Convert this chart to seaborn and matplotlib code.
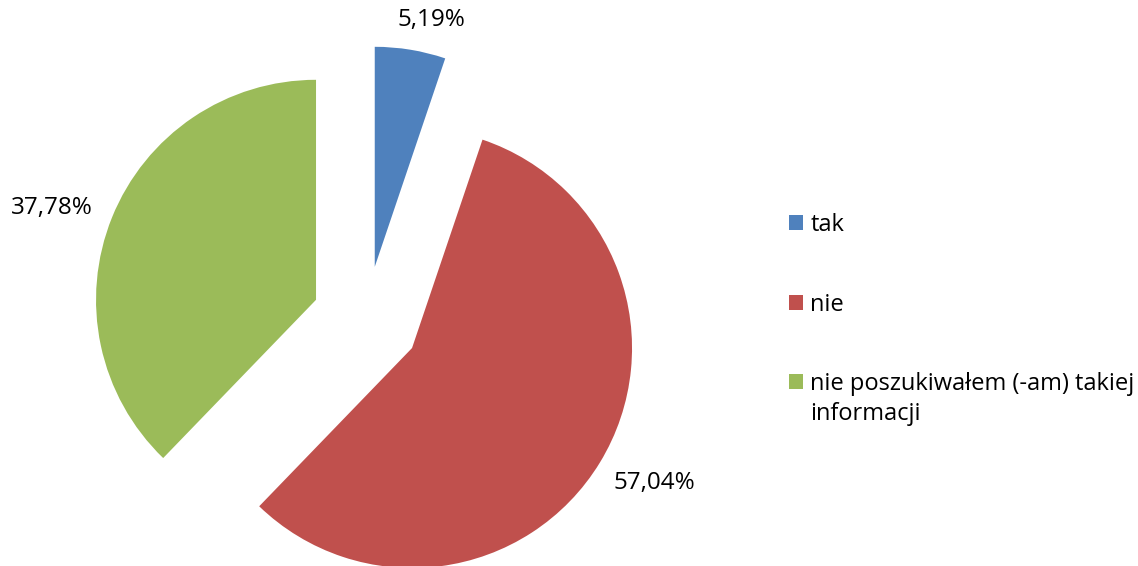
import numpy as np
import matplotlib
matplotlib.use("Agg")
import matplotlib.pyplot as plt
import seaborn as sns

# --- Dane ---
kategorie = ["tak", "nie", "nie poszukiwałem (-am) takiej"]
kategorie_cd = ["", "", "informacji"]   # druga linia opisu w legendzie
wartosci = [5.19, 57.04, 37.78]
kolory = ["#4F81BD", "#C0504D", "#9BBB59"]

sns.set_theme(style="white")
plt.rcParams['font.family'] = ['Open Sans', 'DejaVu Sans']

W, H = 1138, 566
fig = plt.figure(figsize=(W / 100, H / 100), dpi=100)
ax = fig.add_axes([0, 0, 1, 1])

# promien w pikselach i srodek kola (przed rozsunieciem)
R_PX = 220
CX, CY = 366, 320

wedges, _ = ax.pie(
    wartosci,
    colors=kolory,
    startangle=90,
    counterclock=False,
    explode=[0.245] * 3,
    radius=1.0,
    wedgeprops=dict(linewidth=0),
)

# etykiety procentowe poza wycinkami (odleglosc, przesuniecie kata)
odleglosci = [1.152, 1.26, 1.271]
korekta_kata = [-3.7, 2.2, 2.8]
for w, v, d, dk in zip(wedges, wartosci, odleglosci, korekta_kata):
    kat = np.deg2rad((w.theta1 + w.theta2) / 2 + dk)
    cx, cy = w.center
    ax.text(cx + d * np.cos(kat), cy + d * np.sin(kat),
            f"{v:.2f}%".replace(".", ","),
            ha="center", va="center", fontsize=17.5, color="black")

ax.set_aspect("auto")
ax.set_xlim(-CX / R_PX, (W - CX) / R_PX)
ax.set_ylim(-(H - CY) / R_PX, CY / R_PX)
ax.axis("off")

leg = ax.legend(
    wedges, kategorie,
    loc="center left",
    bbox_to_anchor=(789 / W, (H - 304.5) / H),
    bbox_transform=fig.transFigure,
    frameon=False,
    fontsize=17,
    handlelength=0.6,
    handleheight=0.6,
    handletextpad=0.3,
    labelspacing=2.36,
    borderpad=0,
    borderaxespad=0,
)
for t in leg.get_texts():
    t.set_color("black")

# druga linia opisu pod wpisem legendy
fig.canvas.draw()
for t, cd in zip(leg.get_texts(), kategorie_cd):
    if cd:
        bb = t.get_window_extent()
        fig.text(bb.x0 / W, (bb.y0 - 30 + bb.height / 2) / H, cd,
                 ha="left", va="center", fontsize=17, color="black")

fig.savefig("out.png", dpi=100)
